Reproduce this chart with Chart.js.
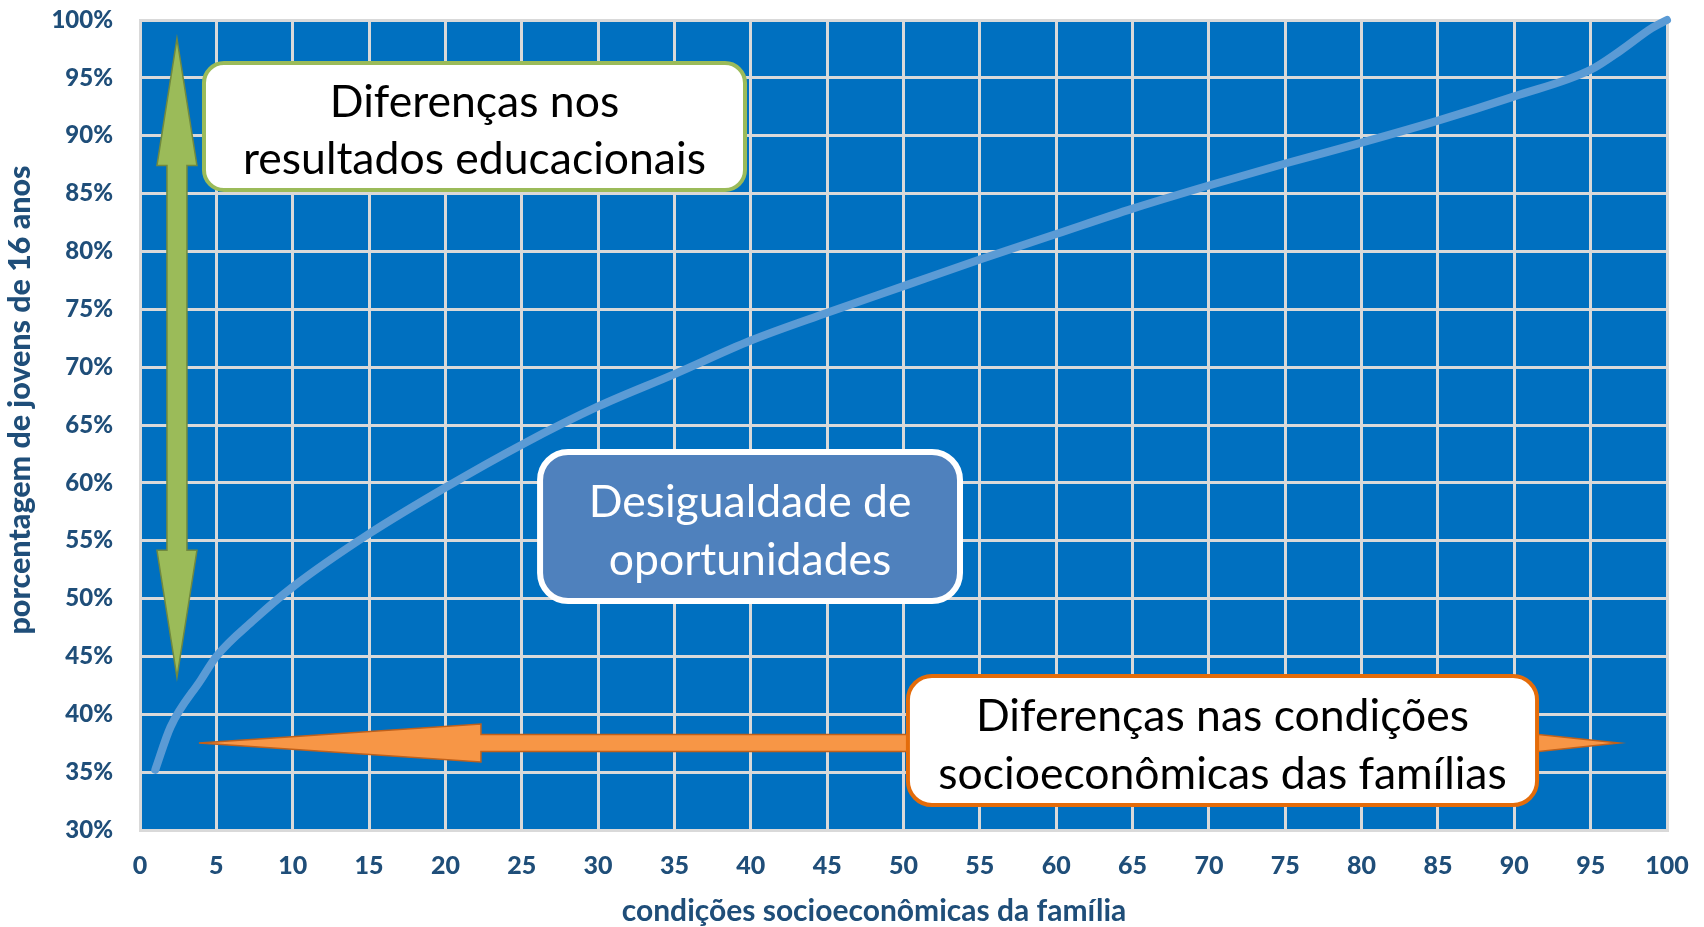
<!DOCTYPE html>
<html>
<head>
<meta charset="utf-8">
<script src="https://cdn.jsdelivr.net/npm/chart.js@4.4.1/dist/chart.umd.min.js"></script>
<style>
  html, body { margin: 0; padding: 0; background: #ffffff; }
  canvas { display: block; }
</style>
</head>
<body>
<canvas id="curva" width="1704" height="927"></canvas>
<script>
// percentil das condições socioeconômicas (eixo x)
const percentis = [1, 2, 4, 5, 7.5, 10, 15, 20, 25, 30, 35, 40, 45, 50, 55, 60, 65, 70, 75, 80, 85, 90, 95, 97, 99, 100];
// % de jovens de 16 anos (eixo y)
const porcentagens = [35.2, 38.9, 43.0, 45.0, 48.2, 51.0, 55.6, 59.6, 63.3, 66.6, 69.4, 72.3, 74.7, 77.0, 79.3, 81.5, 83.7, 85.7, 87.6, 89.4, 91.3, 93.4, 95.7, 97.4, 99.3, 100];

const yTitulo = "porcentagem de jovens de 16 anos";
const xTitulo = "condições socioeconômicas da família";

const caixaVerde = ["Diferenças nos", "resultados educacionais"];
const caixaAzul = ["Desigualdade de", "oportunidades"];
const caixaLaranja = ["Diferenças nas condições", "socioeconômicas das famílias"];

const corTexto = "#1F4E79";

// fundo azul da área do gráfico
const fundoPlot = {
  id: "fundoPlot",
  beforeDraw(chart) {
    const { ctx, chartArea: a } = chart;
    ctx.save();
    ctx.fillStyle = "#0070C0";
    ctx.fillRect(a.left, a.top, a.right - a.left, a.bottom - a.top);
    ctx.restore();
  }
};

function caixa(ctx, x0, y0, x1, y1, r, fill, stroke, lw, linhas, corLetra, yl) {
  ctx.beginPath();
  ctx.roundRect(x0, y0, x1 - x0, y1 - y0, r);
  ctx.fillStyle = fill;
  ctx.fill();
  ctx.lineWidth = lw;
  ctx.strokeStyle = stroke;
  ctx.stroke();
  ctx.fillStyle = corLetra;
  ctx.font = "44.5px Lato";
  ctx.textAlign = "center";
  ctx.textBaseline = "middle";
  const cx = (x0 + x1) / 2;
  linhas.forEach((t, i) => ctx.fillText(t, cx, yl[i]));
}

const anotacoes = {
  id: "anotacoes",
  afterDatasetsDraw(chart) {
    const { ctx } = chart;
    const xs = chart.scales.x, ys = chart.scales.y;
    const px = v => xs.getPixelForValue(v);
    const py = v => ys.getPixelForValue(v);
    ctx.save();

    // seta dupla vertical verde
    const cx = px(2.42), ty = py(98.4), by = py(43.2);
    const hl = 127, hw = 20, sw = 10;
    ctx.beginPath();
    ctx.moveTo(cx, ty);
    ctx.lineTo(cx + hw, ty + hl);
    ctx.lineTo(cx + sw, ty + hl);
    ctx.lineTo(cx + sw, by - hl);
    ctx.lineTo(cx + hw, by - hl);
    ctx.lineTo(cx, by);
    ctx.lineTo(cx - hw, by - hl);
    ctx.lineTo(cx - sw, by - hl);
    ctx.lineTo(cx - sw, ty + hl);
    ctx.lineTo(cx - hw, ty + hl);
    ctx.closePath();
    ctx.fillStyle = "#9BBB59";
    ctx.fill();
    ctx.lineWidth = 1.5;
    ctx.strokeStyle = "#71893F";
    ctx.stroke();

    // seta dupla horizontal laranja
    const lx = px(3.86), rx = px(96.86), cy = py(37.52);
    const hlL = 282, hlR = 180, hh = 19, sh = 8.5;
    ctx.beginPath();
    ctx.moveTo(lx, cy);
    ctx.lineTo(lx + hlL, cy - hh);
    ctx.lineTo(lx + hlL, cy - sh);
    ctx.lineTo(rx - hlR, cy - sh);
    ctx.lineTo(rx - hlR, cy - hh);
    ctx.lineTo(rx, cy);
    ctx.lineTo(rx - hlR, cy + hh);
    ctx.lineTo(rx - hlR, cy + sh);
    ctx.lineTo(lx + hlL, cy + sh);
    ctx.lineTo(lx + hlL, cy + hh);
    ctx.closePath();
    ctx.fillStyle = "#F79646";
    ctx.fill();
    ctx.lineWidth = 1.5;
    ctx.strokeStyle = "#C0601A";
    ctx.stroke();

    caixa(ctx, px(4.19), py(96.28), px(39.62), py(85.31), 20, "#ffffff", "#9BBB59", 4,
      caixaVerde, "#000000", [103, 160]);
    caixa(ctx, px(26.2), py(62.67), px(53.7), py(49.79), 28, "#4F81BD", "#ffffff", 6,
      caixaAzul, "#ffffff", [503, 561]);
    caixa(ctx, px(50.29), py(43.31), px(91.49), py(32.16), 24, "#ffffff", "#E46C0A", 4,
      caixaLaranja, "#000000", [717, 775]);

    // títulos dos eixos
    ctx.fillStyle = corTexto;
    ctx.font = "bold 30px Lato";
    ctx.textAlign = "center";
    ctx.textBaseline = "middle";
    ctx.fillText(xTitulo, 874, 911);

    ctx.font = "900 30px Lato";
    const w = ctx.measureText(yTitulo).width;
    ctx.translate(20, 400);
    ctx.rotate(-Math.PI / 2);
    ctx.scale(469 / w, 1);
    ctx.fillText(yTitulo, 0, 0);
    ctx.restore();
  }
};

new Chart(document.getElementById("curva"), {
  type: "line",
  data: {
    datasets: [{
      data: percentis.map((x, i) => ({ x: x, y: porcentagens[i] })),
      borderColor: "#5B9BD5",
      borderWidth: 8,
      borderCapStyle: "round",
      pointRadius: 0,
      cubicInterpolationMode: "monotone",
      fill: false,
      clip: false
    }]
  },
  options: {
    responsive: false,
    animation: false,
    layout: { padding: { top: 20, right: 37, left: 0, bottom: 0 } },
    plugins: {
      legend: { display: false },
      tooltip: { enabled: false }
    },
    scales: {
      x: {
        type: "linear",
        min: 0,
        max: 100,
        afterFit(s) { s.height = 97; s.paddingLeft = 0; s.paddingRight = 0; },
        ticks: {
          stepSize: 5,
          padding: 21,
          color: corTexto,
          font: { family: "Lato", size: 25, weight: "900" }
        },
        grid: { color: "#D9D9D9", lineWidth: 3, drawTicks: false },
        border: { color: "#D9D9D9", width: 3 }
      },
      y: {
        min: 30,
        max: 100,
        afterFit(s) { s.width = 140; s.paddingTop = 0; s.paddingBottom = 0; },
        ticks: {
          stepSize: 5,
          padding: 27,
          color: corTexto,
          font: { family: "Lato", size: 24, weight: "900" },
          callback: v => v + "%"
        },
        grid: { color: "#D9D9D9", lineWidth: 3, drawTicks: false },
        border: { color: "#D9D9D9", width: 3 }
      }
    }
  },
  plugins: [fundoPlot, anotacoes]
});
</script>
</body>
</html>
